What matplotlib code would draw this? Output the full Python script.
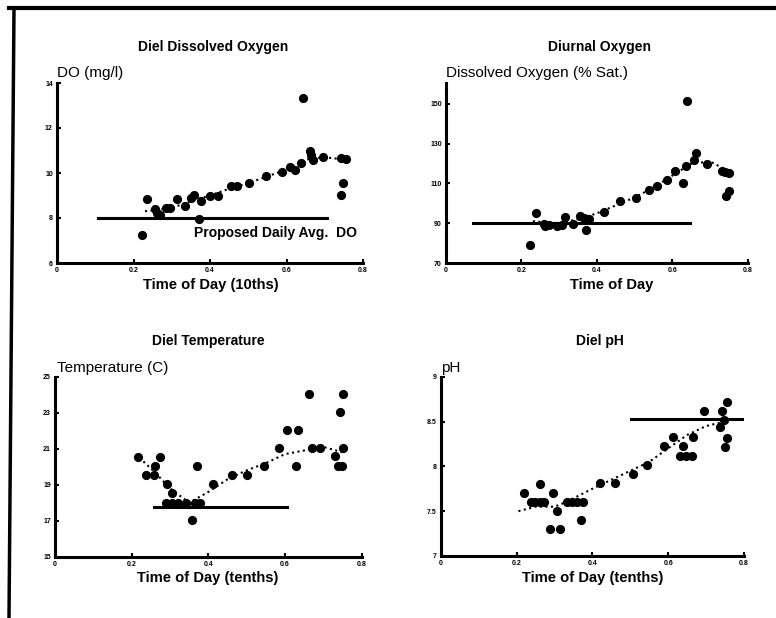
import matplotlib
matplotlib.use("Agg")
import matplotlib.pyplot as plt
from matplotlib.lines import Line2D

plt.rcParams['font.family'] = ['Liberation Sans', 'DejaVu Sans']

# ---------------- data ----------------
x_ticks = [0, 0.2, 0.4, 0.6, 0.8]
x_tick_labels = ["0", "0.2", "0.4", "0.6", "0.8"]

# Diel Dissolved Oxygen (mg/l)
do_x = [0.223, 0.235, 0.255, 0.261, 0.268, 0.285, 0.295, 0.314, 0.334, 0.351, 0.357,
        0.371, 0.377, 0.399, 0.421, 0.456, 0.470, 0.502, 0.547, 0.589, 0.608, 0.621,
        0.639, 0.643, 0.661, 0.665, 0.669, 0.695, 0.743, 0.755, 0.749, 0.743]
do_y = [7.26, 8.84, 8.40, 8.22, 8.15, 8.44, 8.44, 8.84, 8.52, 8.89, 9.04,
        7.96, 8.74, 8.99, 8.99, 9.41, 9.43, 9.56, 9.85, 10.03, 10.25, 10.15,
        10.44, 13.33, 11.00, 10.80, 10.60, 10.71, 10.67, 10.62, 9.56, 9.04]
do_trend_x = [0.23, 0.30, 0.35, 0.40, 0.45, 0.50, 0.55, 0.60, 0.65, 0.70, 0.75]
do_trend_y = [8.30, 8.45, 8.75, 9.00, 9.30, 9.55, 9.85, 10.15, 10.60, 10.70, 10.60]
do_std = 8.0
do_std_x = [0.107, 0.707]

# Diurnal Oxygen (% saturation)
sat_x = [0.222, 0.239, 0.259, 0.263, 0.272, 0.294, 0.316, 0.307, 0.336, 0.356, 0.365,
         0.378, 0.371, 0.419, 0.462, 0.502, 0.537, 0.558, 0.585, 0.606, 0.627, 0.636,
         0.638, 0.658, 0.662, 0.691, 0.731, 0.740, 0.749, 0.749, 0.743]
sat_y = [79.0, 95.2, 89.8, 88.6, 89.0, 88.6, 93.3, 89.0, 89.8, 93.7, 92.8,
         92.3, 86.4, 95.4, 101.3, 102.6, 106.7, 108.9, 111.8, 116.5, 110.2, 118.7,
         151.7, 121.9, 125.5, 119.9, 116.5, 116.0, 115.3, 106.3, 103.5]
sat_trend_x = [0.23, 0.30, 0.35, 0.40, 0.45, 0.50, 0.55, 0.60, 0.65, 0.70, 0.75]
sat_trend_y = [91.0, 90.0, 92.0, 95.0, 99.0, 103.0, 108.0, 114.0, 120.0, 121.0, 116.0]
sat_std = 90.0
sat_std_x = [0.072, 0.646]

# Diel Temperature (C)
t_x = [0.217, 0.237, 0.257, 0.261, 0.274, 0.291, 0.304, 0.290, 0.304, 0.322, 0.343,
       0.365, 0.377, 0.357, 0.370, 0.413, 0.461, 0.502, 0.545, 0.583, 0.606, 0.629,
       0.635, 0.663, 0.670, 0.691, 0.730, 0.739, 0.748, 0.743, 0.750, 0.750]
t_y = [20.56, 19.54, 19.54, 20.04, 20.56, 19.04, 18.52, 18.00, 18.00, 18.00, 18.00,
       18.00, 18.00, 17.04, 20.04, 19.02, 19.54, 19.54, 20.06, 21.06, 22.04, 20.06,
       22.04, 24.04, 21.06, 21.06, 20.60, 20.06, 20.06, 23.04, 24.04, 21.06]
t_trend_x = [0.22, 0.26, 0.30, 0.35, 0.40, 0.45, 0.50, 0.55, 0.60, 0.65, 0.70, 0.75]
t_trend_y = [20.5, 19.7, 18.8, 18.0, 18.6, 19.3, 19.8, 20.2, 20.7, 20.9, 21.1, 20.8]
t_std = 17.78
t_std_x = [0.259, 0.606]

# Diel pH
ph_x = [0.220, 0.262, 0.237, 0.249, 0.262, 0.272, 0.295, 0.308, 0.288, 0.315, 0.332,
        0.346, 0.359, 0.376, 0.369, 0.420, 0.460, 0.508, 0.545, 0.589, 0.612, 0.638,
        0.631, 0.648, 0.662, 0.666, 0.695, 0.737, 0.741, 0.756, 0.747, 0.756, 0.750]
ph_y = [7.706, 7.80, 7.606, 7.606, 7.606, 7.606, 7.706, 7.506, 7.297, 7.297, 7.606,
        7.606, 7.606, 7.606, 7.40, 7.81, 7.81, 7.915, 8.02, 8.23, 8.33, 8.23,
        8.115, 8.115, 8.115, 8.33, 8.62, 8.435, 8.62, 8.72, 8.52, 8.32, 8.22]
ph_trend_x = [0.205, 0.25, 0.30, 0.33, 0.40, 0.45, 0.50, 0.55, 0.60, 0.65, 0.70, 0.75]
ph_trend_y = [7.50, 7.55, 7.55, 7.60, 7.75, 7.85, 7.95, 8.05, 8.20, 8.35, 8.45, 8.50]
ph_std = 8.524
ph_std_x = [0.501, 0.798]

# ---------------- figure ----------------
W, H = 776, 618
fig = plt.figure(figsize=(W / 100, H / 100), dpi=100)


def px(x, y):
    return x / W, 1 - y / H


def make_ax(rect, ylim, yticks, yticklabels, xs, ys, tx, ty, std, std_x):
    ax = fig.add_axes(rect)
    ax.set_xlim(0, 0.8)
    ax.set_ylim(*ylim)
    ax.set_xticks(x_ticks)
    ax.set_xticklabels(x_tick_labels)
    ax.set_yticks(yticks)
    ax.set_yticklabels(yticklabels)
    for s in ['top', 'right']:
        ax.spines[s].set_visible(False)
    for s in ['left', 'bottom']:
        ax.spines[s].set_linewidth(2.2)
    ax.tick_params(direction='in', length=3, width=1.5, labelsize=5, pad=3)
    for lab in ax.get_xticklabels() + ax.get_yticklabels():
        lab.set_fontweight('bold')
    ax.plot(tx, ty, linestyle=':', color='black', linewidth=1.5, zorder=2)
    ax.plot(std_x, [std, std], color='black', linewidth=2.2, zorder=2)
    ax.plot(xs, ys, linestyle='none', marker='o', color='black', markersize=5.6, zorder=3)
    ax.patch.set_alpha(0)
    return ax


ax1 = make_ax([57 / W, 1 - 263 / H, 306 / W, 180 / H], (6, 14),
              [6, 8, 10, 12, 14], ["6", "8", "10", "12", "14"],
              do_x, do_y, do_trend_x, do_trend_y, do_std, do_std_x)
ax1.text(0.357, 7.33, "Proposed Daily Avg.  DO", fontsize=10, fontweight='bold',
         va='center', ha='left')

ax2 = make_ax([446 / W, 1 - 263 / H, 302 / W, 180 / H], (70, 160.5),
              [70, 90, 110, 130, 150], ["70", "90", "110", "130", "150"],
              sat_x, sat_y, sat_trend_x, sat_trend_y, sat_std, sat_std_x)

ax3 = make_ax([55 / W, 1 - 556.7 / H, 306.7 / W, 180 / H], (15, 25),
              [15, 17, 19, 21, 23, 25], ["15", "17", "19", "21", "23", "25"],
              t_x, t_y, t_trend_x, t_trend_y, t_std, t_std_x)

ax4 = make_ax([440.7 / W, 1 - 556 / H, 303.3 / W, 179.3 / H], (7, 9),
              [7, 7.5, 8, 8.5, 9], ["7", "7.5", "8", "8.5", "9"],
              ph_x, ph_y, ph_trend_x, ph_trend_y, ph_std, ph_std_x)

# titles
tkw = dict(fontsize=10, fontweight='bold', ha='center', va='center')
fig.text(*px(213, 47), "Diel Dissolved Oxygen", **tkw)
fig.text(*px(600, 47), "Diurnal Oxygen", **tkw)
fig.text(*px(208, 341), "Diel Temperature", **tkw)
fig.text(*px(600, 341), "Diel pH", **tkw)

# y labels
ykw = dict(fontsize=11, ha='left', va='center')
fig.text(*px(57, 73), "DO (mg/l)", **ykw)
fig.text(*px(446, 73), "Dissolved Oxygen (% Sat.)", **ykw)
fig.text(*px(57, 368), "Temperature (C)", **ykw)
fig.text(*px(441, 368), "pH", **ykw)

# x labels
xkw = dict(fontsize=10.6, fontweight='bold', ha='center', va='center')
fig.text(*px(211, 285), "Time of Day (10ths)", **xkw)
fig.text(*px(612, 285), "Time of Day", **xkw)
fig.text(*px(208, 578), "Time of Day (tenths)", **xkw)
fig.text(*px(593, 578), "Time of Day (tenths)", **xkw)

# page frame (top and left edges of the scanned page)
fig.add_artist(Line2D([9 / W, 1.0], [1 - 8 / H, 1 - 8 / H], color='black',
                      linewidth=3, transform=fig.transFigure))
fig.add_artist(Line2D([14 / W, 9 / W], [1 - 8 / H, 0.0], color='black',
                      linewidth=2.5, transform=fig.transFigure))

fig.savefig("out.png", dpi=100)
